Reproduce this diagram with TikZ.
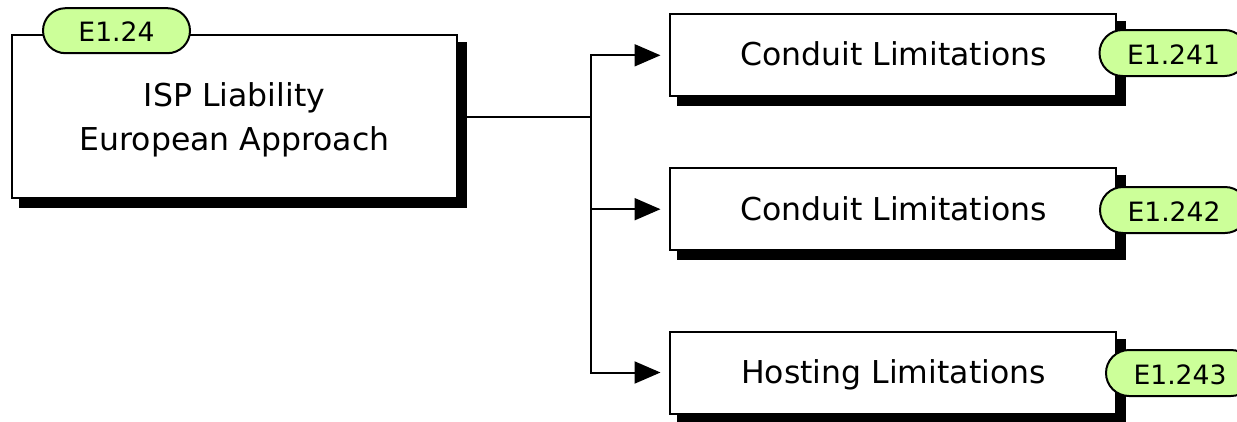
\documentclass[tikz,border=0pt]{standalone}
\usepackage{fontspec}
\setmainfont{DejaVu Sans}
\usetikzlibrary{arrows.meta,shapes.misc,backgrounds}
\definecolor{tagfill}{RGB}{204,255,153}
\begin{document}
\begin{tikzpicture}[x=1pt,y=-1pt,
  box/.style={draw, line width=2pt, fill=white, minimum width=446pt, minimum height=82pt, inner sep=0pt, outer sep=0pt},
  lbl/.style={inner sep=0pt, outer sep=0pt, font=\fontsize{31.5pt}{43.3pt}\selectfont},
  tag/.style={rounded rectangle, draw, line width=2pt, fill=tagfill, minimum width=148pt, minimum height=46pt, inner sep=0pt, outer sep=0pt, text height=22pt, text depth=0pt, font=\fontsize{26.6pt}{30pt}\selectfont},
  conn/.style={line width=2pt},
  arr/.style={line width=2pt, -{Triangle[length=26pt,width=22pt]}, shorten >=9.3pt},
  shadowfill/.style={fill=black}]
\useasboundingbox (0,0) rectangle (1237,421);
% boxes
\node[box, minimum width=445pt, minimum height=163pt] (main) at (234.5,116.7) {};
\node[box] (b1) at (892.8,55.3) {};
\node[box] (b2) at (892.8,209.2) {};
\node[box] (b3) at (892.8,372.5) {};
% shadows
\begin{scope}[on background layer]
\foreach \n in {main,b1,b2,b3}{
  \fill[shadowfill] ([shift={(7,7)}]\n.north west) rectangle ([shift={(10,10)}]\n.south east);
}
\end{scope}
% texts
\node[lbl, anchor=base] (m1) at (234.5,106.7) {ISP Liability};
\node[lbl, anchor=base] (m2) at (234.5,150) {European Approach};
\node[lbl, anchor=base] (t1) at (893.5,65.5) {Conduit Limitations};
\node[lbl, anchor=base] (t2) at (893.5,220) {Conduit Limitations};
\node[lbl, anchor=base] (t3) at (893.5,383) {Hosting Limitations};
% connectors
\coordinate (jx) at (590.7,0);
\coordinate (j) at (main.east -| jx);
\draw[conn] (main.east) -- (j);
\draw[arr] (j) |- (b1.west);
\draw[arr] (j) |- (b2.west);
\draw[arr] (j) |- (b3.west);
% tags
\node[tag, minimum width=147pt, minimum height=45pt] (g0) at (116.5,30.7) {E1.24};
\node[tag] (g1) at (1173.5,53) {E1.241};
\node[tag] (g2) at (1174,210) {E1.242};
\node[tag] (g3) at (1180,373) {E1.243};
\end{tikzpicture}
\end{document}
